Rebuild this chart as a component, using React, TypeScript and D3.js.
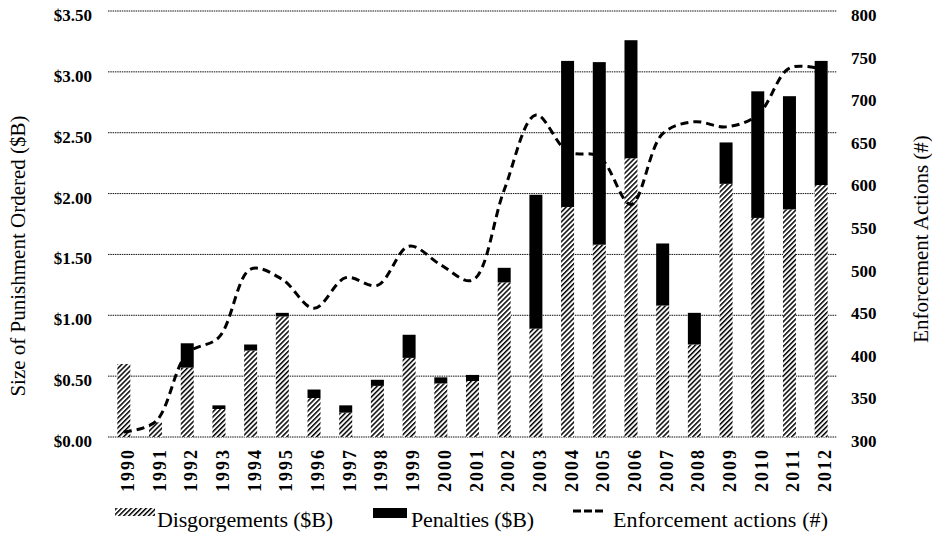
import React, { useEffect, useRef } from "react";
import * as d3 from "d3";

const years = [
  "1990", "1991", "1992", "1993", "1994", "1995", "1996", "1997", "1998", "1999", "2000", "2001",
  "2002", "2003", "2004", "2005", "2006", "2007", "2008", "2009", "2010", "2011", "2012",
];
const disgorgements = [
  0.6, 0.12, 0.57, 0.23, 0.71, 0.99, 0.32, 0.2, 0.42, 0.65, 0.44, 0.46,
  1.27, 0.89, 1.89, 1.58, 2.29, 1.08, 0.76, 2.08, 1.8, 1.87, 2.07,
];
const penalties = [
  0.0, 0.0, 0.2, 0.03, 0.05, 0.03, 0.07, 0.06, 0.05, 0.19, 0.05, 0.05,
  0.12, 1.1, 1.2, 1.5, 0.97, 0.51, 0.26, 0.34, 1.04, 0.93, 1.02,
];
const enforcementActions = [
  306, 318, 398, 417, 497, 485, 451, 487, 478, 524, 502, 484,
  590, 678, 635, 629, 573, 656, 670, 664, 678, 733, 732,
];
const leftTicks = [0, 0.5, 1, 1.5, 2, 2.5, 3, 3.5];
const rightTicks = [300, 350, 400, 450, 500, 550, 600, 650, 700, 750, 800];

const App = () => {
  const ref = useRef<SVGSVGElement>(null);

  useEffect(() => {
    const width = 932;
    const height = 534;
    const margin = { top: 11, right: 95, bottom: 97, left: 108 };
    const font = "'Liberation Serif', 'DejaVu Serif', serif";

    const svg = d3.select(ref.current);
    svg.selectAll("*").remove();
    svg.attr("width", width).attr("height", height);

    // hatch pattern for disgorgements
    const defs = svg.append("defs");
    defs
      .append("pattern")
      .attr("id", "hatch")
      .attr("patternUnits", "userSpaceOnUse")
      .attr("width", 3.5)
      .attr("height", 3.5)
      .attr("patternTransform", "rotate(45)")
      .call((p) => p.append("rect").attr("width", 3.5).attr("height", 3.5).attr("fill", "#fff"))
      .append("line")
      .attr("x1", 0)
      .attr("y1", 0)
      .attr("x2", 0)
      .attr("y2", 3.5)
      .attr("stroke", "#000")
      .attr("stroke-width", 3);

    const x = d3
      .scaleBand()
      .domain(years)
      .range([margin.left, width - margin.right])
      .paddingInner(0.59)
      .paddingOuter(0.295);

    const y = d3
      .scaleLinear()
      .domain([0, 3.5])
      .range([height - margin.bottom, margin.top]);

    const y2 = d3
      .scaleLinear()
      .domain([300, 800])
      .range([height - margin.bottom, margin.top]);

    // gridlines
    svg
      .append("g")
      .selectAll("line")
      .data(leftTicks)
      .enter()
      .append("line")
      .attr("x1", margin.left)
      .attr("x2", width - margin.right)
      .attr("y1", (d) => y(d))
      .attr("y2", (d) => y(d))
      .attr("stroke", "#111")
      .attr("stroke-width", 1)
      .attr("stroke-dasharray", "1.5,0.8");

    // left axis labels
    svg
      .append("g")
      .selectAll("text")
      .data(leftTicks)
      .enter()
      .append("text")
      .attr("x", 92)
      .attr("y", (d) => y(d) + 10)
      .attr("text-anchor", "end")
      .attr("font-family", font)
      .attr("font-size", 17)
      .attr("font-weight", "bold")
      .text((d) => "$" + d.toFixed(2));

    // right axis labels
    svg
      .append("g")
      .selectAll("text")
      .data(rightTicks)
      .enter()
      .append("text")
      .attr("x", 851)
      .attr("y", (d) => y2(d) + 10)
      .attr("font-family", font)
      .attr("font-size", 17)
      .attr("font-weight", "bold")
      .text((d) => d);

    // bars
    const bars = svg.append("g");
    bars
      .selectAll(".disg")
      .data(years)
      .enter()
      .append("rect")
      .attr("x", (d) => x(d)!)
      .attr("width", x.bandwidth())
      .attr("y", (d, i) => y(disgorgements[i]))
      .attr("height", (d, i) => y(0) - y(disgorgements[i]))
      .attr("fill", "url(#hatch)");
    bars
      .selectAll(".pen")
      .data(years)
      .enter()
      .append("rect")
      .attr("x", (d) => x(d)!)
      .attr("width", x.bandwidth())
      .attr("y", (d, i) => y(disgorgements[i] + penalties[i]))
      .attr("height", (d, i) => y(disgorgements[i]) - y(disgorgements[i] + penalties[i]))
      .attr("fill", "#000");

    // enforcement line
    const line = d3
      .line<number>()
      .x((d, i) => x(years[i])! + x.bandwidth() / 2)
      .y((d) => y2(d))
      .curve(d3.curveCatmullRom.alpha(0.5));
    svg
      .append("path")
      .datum(enforcementActions)
      .attr("d", line)
      .attr("fill", "none")
      .attr("stroke", "#000")
      .attr("stroke-width", 3)
      .attr("stroke-dasharray", "8,5");

    // x labels
    svg
      .append("g")
      .selectAll("text")
      .data(years)
      .enter()
      .append("text")
      .attr("transform", (d) => `translate(${x(d)! + x.bandwidth() / 2 + 10},${450}) rotate(-90)`)
      .attr("text-anchor", "end")
      .attr("font-family", font)
      .attr("font-size", 18)
      .attr("font-weight", "bold")
      .attr("textLength", 42)
      .text((d) => d);

    // axis titles
    svg
      .append("text")
      .attr("transform", `translate(25,256) rotate(-90)`)
      .attr("text-anchor", "middle")
      .attr("font-family", font)
      .attr("font-size", 21)
      .text("Size of Punishment Ordered ($B)");
    svg
      .append("text")
      .attr("transform", `translate(928,239) rotate(-90)`)
      .attr("text-anchor", "middle")
      .attr("font-family", font)
      .attr("font-size", 21)
      .text("Enforcement Actions (#)");

    // legend
    const legend = svg.append("g").attr("font-family", font).attr("font-size", 22);
    legend.append("rect").attr("x", 115).attr("y", 508).attr("width", 40).attr("height", 8).attr("fill", "url(#hatch)");
    legend.append("text").attr("x", 157).attr("y", 527).attr("textLength", 176).text("Disgorgements ($B)");
    legend.append("rect").attr("x", 373).attr("y", 508).attr("width", 34).attr("height", 10).attr("fill", "#000");
    legend.append("text").attr("x", 411).attr("y", 527).attr("textLength", 123).text("Penalties ($B)");
    legend
      .append("line")
      .attr("x1", 573)
      .attr("x2", 604)
      .attr("y1", 511)
      .attr("y2", 511)
      .attr("stroke", "#000")
      .attr("stroke-width", 3)
      .attr("stroke-dasharray", "8,3");
    legend.append("text").attr("x", 613).attr("y", 527).attr("textLength", 215).text("Enforcement actions (#)");
  }, []);

  return (
    <div style={{ position: "absolute", left: 0, top: 0, background: "#fff" }}>
      <svg ref={ref}></svg>
    </div>
  );
};

export default App;
